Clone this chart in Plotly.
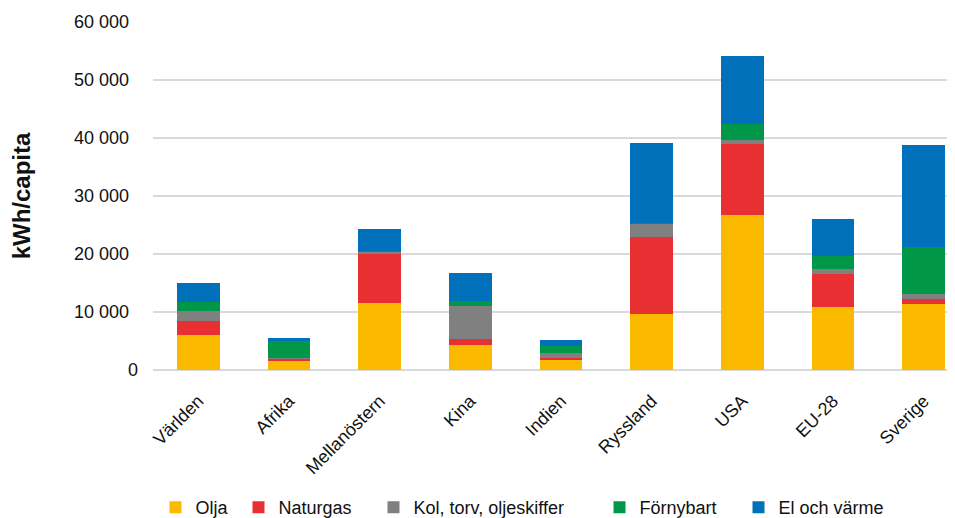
import plotly.graph_objects as go

categories = ["Världen", "Afrika", "Mellanöstern", "Kina", "Indien",
              "Ryssland", "USA", "EU-28", "Sverige"]

olja      = [6100, 1550, 11550, 4260, 1670,  9720, 26670, 10860, 11450]
naturgas  = [2350,  420,  8620, 1090,  350, 13210, 12300,  5760,   860]
kol       = [1670,  170,   300, 5640,  910,  2310,   630,   860,   860]
fornybart = [1670, 2860,   100,  860, 1280,   170,  2880,  2120,  8040]
el_varme  = [3160,  470,  3690, 4830,  910, 13790, 11720,  6500, 17650]

series_names = ["Olja", "Naturgas", "Kol, torv, oljeskiffer", "Förnybart", "El och värme"]
series_values = [olja, naturgas, kol, fornybart, el_varme]
colors = ["#FBBA00", "#E83033", "#808080", "#009848", "#0070BA"]

y_ticks = [0, 10000, 20000, 30000, 40000, 50000, 60000]
y_ticktext = ["0"] + [f"{v:,}".replace(",", " ") + "\u2002" for v in y_ticks[1:]]

FONT = "Liberation Sans, Arial, sans-serif"
PAGE_OFF = 8                      # default body margin of the html page
W, H = 955 - PAGE_OFF, 518 - PAGE_OFF
ML, MR, MT, MB = 145, 0, 14, 148
plot_w = W - ML - MR

# legend symbol centres (page pixels) for each entry
legend_px = [175.5, 258.5, 393.5, 619.5, 758.5]

fig = go.Figure()
legend_ids = ["legend", "legend2", "legend3", "legend4", "legend5"]
for name, vals, col, lid in zip(series_names, series_values, colors, legend_ids):
    fig.add_trace(go.Bar(
        x=categories, y=vals, name=name,
        marker=dict(color=col, line=dict(width=0)),
        legend=lid,
    ))

layout_legends = {}
for lid, px in zip(legend_ids, legend_px):
    layout_legends[lid] = dict(
        x=(px - PAGE_OFF - 20 - ML) / plot_w, xanchor="left",
        y=-0.395, yanchor="middle",
        orientation="h",
        font=dict(family=FONT, size=18, color="#111111"),
        bgcolor="rgba(0,0,0,0)", borderwidth=0,
        itemclick=False, itemdoubleclick=False,
    )

fig.update_layout(
    width=W, height=H,
    margin=dict(l=ML, r=MR, t=MT, b=MB, pad=0, autoexpand=False),
    barmode="stack",
    bargap=0.53,
    plot_bgcolor="white", paper_bgcolor="white",
    font=dict(family=FONT, size=18, color="#111111"),
    showlegend=True,
    **layout_legends,
)

fig.update_xaxes(
    range=[-0.5, -0.5 + plot_w / 90.67],
    tickangle=-45,
    showgrid=False, showline=False, zeroline=False,
    ticks="", automargin=False,
    ticklabelstandoff=16,
    tickfont=dict(family=FONT, size=18, color="#111111"),
)

fig.update_yaxes(
    range=[0, 60000],
    tickvals=y_ticks, ticktext=y_ticktext,
    showgrid=True, gridcolor="#D9D9D9", gridwidth=2,
    zeroline=True, zerolinecolor="#D9D9D9", zerolinewidth=2,
    showline=False, ticks="", automargin=False,
    ticklabelstandoff=14,
    tickfont=dict(family=FONT, size=18, color="#111111"),
    title=dict(text="<b>kWh/capita</b>", standoff=36,
               font=dict(family=FONT, size=24, color="#111111")),
)

fig.write_html("out.html")
